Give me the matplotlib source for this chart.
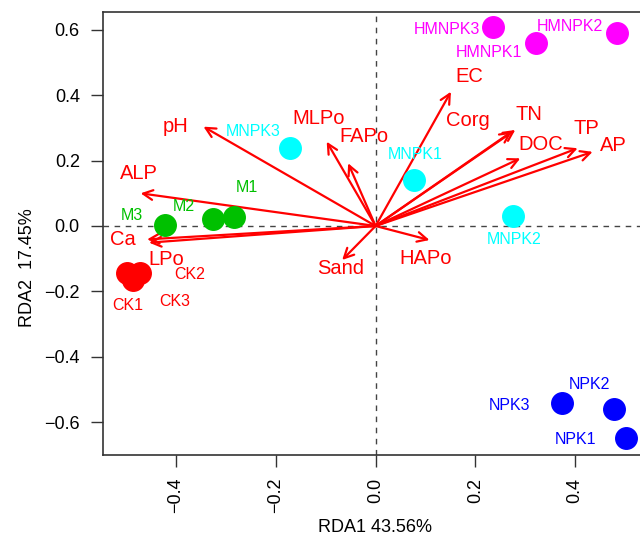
import matplotlib
matplotlib.use("Agg")
import matplotlib.pyplot as plt

plt.rcParams['font.family'] = ['Liberation Sans', 'DejaVu Sans']

# ---- sample scores ----
sample_names = ["CK1", "CK2", "CK3", "M1", "M2", "M3",
                "MNPK1", "MNPK2", "MNPK3", "HMNPK1", "HMNPK2", "HMNPK3",
                "NPK1", "NPK2", "NPK3"]
sample_x = [-0.499, -0.472, -0.486, -0.284, -0.325, -0.423,
            0.077, 0.276, -0.171, 0.322, 0.484, 0.236,
            0.502, 0.478, 0.374]
sample_y = [-0.145, -0.143, -0.165, 0.029, 0.020, 0.004,
            0.141, 0.031, 0.238, 0.561, 0.590, 0.608,
            -0.650, -0.560, -0.543]
sample_group = ["CK", "CK", "CK", "M", "M", "M",
                "MNPK", "MNPK", "MNPK", "HMNPK", "HMNPK", "HMNPK",
                "NPK", "NPK", "NPK"]
sample_label_x = [-0.496, -0.373, -0.402, -0.258, -0.385, -0.489,
                  0.079, 0.278, -0.245, 0.228, 0.390, 0.144,
                  0.400, 0.429, 0.268]
sample_label_y = [-0.243, -0.150, -0.230, 0.118, 0.059, 0.032,
                  0.220, -0.041, 0.289, 0.530, 0.610, 0.602,
                  -0.655, -0.484, -0.548]

# ---- environmental vectors ----
env_names = ["pH", "ALP", "Ca", "LPo", "MLPo", "FAPo", "Sand", "HAPo",
             "EC", "Corg", "TN", "DOC", "TP", "AP"]
env_x = [-0.345, -0.471, -0.458, -0.454, -0.098, -0.055, -0.067, 0.108,
         0.151, 0.273, 0.280, 0.290, 0.405, 0.435]
env_y = [0.304, 0.100, -0.041, -0.051, 0.258, 0.192, -0.104, -0.043,
         0.411, 0.289, 0.294, 0.207, 0.238, 0.227]
env_label_x = [-0.401, -0.474, -0.506, -0.420, -0.115, -0.024, -0.070, 0.101,
               0.188, 0.185, 0.308, 0.331, 0.423, 0.476]
env_label_y = [0.306, 0.161, -0.041, -0.104, 0.330, 0.273, -0.130, -0.098,
               0.459, 0.322, 0.340, 0.248, 0.299, 0.245]

group_colors = {"CK": "#FF0000", "M": "#00C000", "MNPK": "#00FFFF",
                "HMNPK": "#FF00FF", "NPK": "#0000FF"}

xticks = [-0.4, -0.2, 0.0, 0.2, 0.4]
yticks = [-0.6, -0.4, -0.2, 0.0, 0.2, 0.4, 0.6]

fig = plt.figure(figsize=(6.4, 5.43), dpi=100)
ax = fig.add_axes([102.7 / 640, 88 / 543, (645 - 102.7) / 640, (531 - 88) / 543])
ax.set_xlim(-0.547, 0.540)
ax.set_ylim(-0.701, 0.655)

ax.axhline(0, color="#444444", lw=1.0, ls=(0, (4, 4)), zorder=1)
ax.axvline(0, color="#444444", lw=1.0, ls=(0, (4, 4)), zorder=1)

# points
for x, y, g in zip(sample_x, sample_y, sample_group):
    ax.plot(x, y, "o", ms=15.5, color=group_colors[g], mec=group_colors[g], zorder=3)
for name, lx, ly, g in zip(sample_names, sample_label_x, sample_label_y, sample_group):
    ax.text(lx, ly, name, color=group_colors[g], fontsize=11.5, ha="center",
            va="center", zorder=4)

# arrows
for name, x, y, lx, ly in zip(env_names, env_x, env_y, env_label_x, env_label_y):
    ax.annotate("", xy=(x, y), xytext=(0, 0),
                arrowprops=dict(arrowstyle="->,head_length=0.7,head_width=0.35",
                                color="#FF0000", lw=1.6, shrinkA=0, shrinkB=0),
                zorder=2)
    ax.text(lx, ly, name, color="#FF0000", fontsize=14.5, ha="center", va="center",
            zorder=4)

ax.set_xticks(xticks)
ax.set_xticklabels([f"{t:.1f}".replace("-", "\u2212") for t in xticks],
                   rotation=90, fontsize=13)
ax.set_yticks(yticks)
ax.set_yticklabels([f"{t:.1f}".replace("-", "\u2212") for t in yticks], fontsize=13)
ax.tick_params(direction="out", length=8.5, width=1.0, color="#333333", pad=8)
for s in ax.spines.values():
    s.set_linewidth(1.2)
    s.set_color("#333333")

fig.text(375.5 / 640, 1 - 527 / 543, "RDA1 43.56%", ha="center", va="center", fontsize=13)
fig.text(28 / 640, 1 - 268 / 543, "RDA2  17.45%", ha="center", va="center",
         rotation=90, fontsize=13)

fig.savefig("out.png", dpi=100)
